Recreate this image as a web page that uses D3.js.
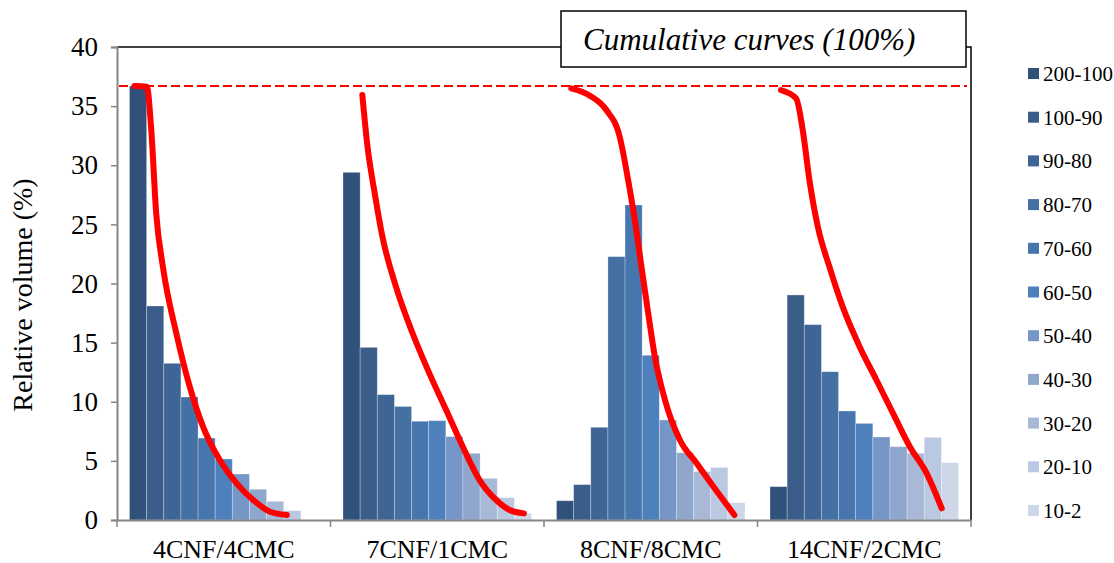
<!DOCTYPE html>
<html>
<head>
<meta charset="utf-8">
<script src="https://cdn.jsdelivr.net/npm/d3@7"></script>
<style>
  html, body { margin: 0; padding: 0; background: #fff; }
  svg { display: block; }
  svg text { font-family: "Liberation Serif", "Tinos", "Times New Roman", Times, "DejaVu Serif", "Noto Serif", serif !important; fill: #000; }
</style>
</head>
<body>
<svg id="chart" width="1114" height="563"></svg>
<script>
// ---------- data ----------
const categories = ["4CNF/4CMC", "7CNF/1CMC", "8CNF/8CMC", "14CNF/2CMC"];
const sizeClasses = ["200-100", "100-90", "90-80", "80-70", "70-60", "60-50", "50-40", "40-30", "30-20", "20-10", "10-2"];
const classColors = ["#30517a", "#3a5d8a", "#3e6596", "#4470a4", "#4776ae", "#4e80bc", "#7596c6", "#8fa6cd", "#a8b8d7", "#bbc8e1", "#cdd7e8"];

const values_4CNF_4CMC  = [36.7, 18.1, 13.25, 10.4, 6.93, 5.16, 3.89, 2.6, 1.58, 0.79, 0];
const values_7CNF_1CMC  = [29.4, 14.6, 10.6, 9.6, 8.35, 8.4, 7.05, 5.64, 3.52, 1.89, 0.56];
const values_8CNF_8CMC  = [1.63, 2.99, 7.84, 22.27, 26.64, 13.93, 8.46, 5.69, 4.09, 4.45, 1.46];
const values_14CNF_2CMC = [2.82, 19.03, 16.52, 12.54, 9.22, 8.17, 7.02, 6.2, 5.64, 6.99, 4.85];

// cumulative curves (position in size-class units within each group, value on the % axis)
const curvePos_4CNF_4CMC  = [0.29, 1.01, 1.27, 1.56, 1.95, 2.73, 3.51, 4.29, 5.27, 6.25, 7.22, 8.2, 9.18];
const curveVal_4CNF_4CMC  = [36.7, 36.65, 33.0, 25.9, 21.4, 15.8, 11.3, 7.9, 5.07, 3.1, 1.69, 0.7, 0.42];
const curvePos_7CNF_1CMC  = [1.13, 1.43, 1.82, 2.3, 3.09, 4.06, 5.04, 6.02, 6.99, 7.97, 8.94, 9.72, 10.56];
const curveVal_7CNF_1CMC  = [35.94, 31.57, 27.9, 23.96, 19.73, 15.79, 12.4, 9.3, 6.2, 3.38, 1.69, 0.85, 0.56];
const curvePos_8CNF_8CMC  = [0.86, 1.93, 2.91, 3.69, 4.18, 4.57, 4.96, 5.35, 5.74, 6.33, 7.2, 8.18, 9.16, 10.38];
const curveVal_8CNF_8CMC  = [36.5, 35.9, 34.67, 32.4, 28.75, 25.37, 21.4, 17.5, 13.8, 10.15, 6.77, 4.8, 2.82, 0.42];
const curvePos_14CNF_2CMC = [0.64, 1.52, 1.91, 2.3, 2.79, 3.47, 4.25, 5.23, 6.21, 7.18, 8.16, 9.14, 10.02];
const curveVal_14CNF_2CMC = [36.36, 35.66, 32.98, 28.75, 24.8, 21.4, 18.0, 14.66, 11.84, 9.02, 6.2, 3.95, 0.99];

const cumulativeLevel = 36.7;
const yTicks = [0, 5, 10, 15, 20, 25, 30, 35, 40];
const chartTitle = "Cumulative curves (100%)";
const yAxisTitle = "Relative volume (%)";

const groupValues = [values_4CNF_4CMC, values_7CNF_1CMC, values_8CNF_8CMC, values_14CNF_2CMC];
const groupCurves = [
  [curvePos_4CNF_4CMC, curveVal_4CNF_4CMC],
  [curvePos_7CNF_1CMC, curveVal_7CNF_1CMC],
  [curvePos_8CNF_8CMC, curveVal_8CNF_8CMC],
  [curvePos_14CNF_2CMC, curveVal_14CNF_2CMC]
];

// ---------- layout ----------
const FONT = '"Liberation Serif", "Tinos", "Times New Roman", Times, "DejaVu Serif", "Noto Serif", serif';
const svg = d3.select("#chart");
const plotLeft = 117, plotRight = 971, plotTop = 47, plotBottom = 520;

const x0 = d3.scaleBand().domain(categories).range([plotLeft, plotRight]).padding(0);
const x1 = d3.scaleBand().domain(sizeClasses).range([12.5, x0.bandwidth() - 12.5]).padding(0);
const xPos = d3.scaleLinear().domain([0, sizeClasses.length]).range([12.5, x0.bandwidth() - 12.5]);
const y = d3.scaleLinear().domain([0, 40]).range([plotBottom, plotTop]);
const color = d3.scaleOrdinal().domain(sizeClasses).range(classColors);

// frame: top line and right border
svg.append("line").attr("x1", plotLeft).attr("x2", 562).attr("y1", plotTop).attr("y2", plotTop)
  .attr("stroke", "#000").attr("stroke-width", 1.5);
svg.append("path")
  .attr("d", `M966,${plotTop}H${plotRight}V${plotBottom}`)
  .attr("fill", "none").attr("stroke", "#000").attr("stroke-width", 1.5);

// bars
const groups = svg.append("g").selectAll("g")
  .data(categories)
  .join("g")
  .attr("transform", d => `translate(${x0(d)},0)`);

groups.selectAll("rect")
  .data((d, i) => groupValues[i].map((v, k) => ({ cls: sizeClasses[k], v })))
  .join("rect")
  .attr("x", d => x1(d.cls))
  .attr("width", x1.bandwidth())
  .attr("y", d => y(d.v))
  .attr("height", d => y(0) - y(d.v))
  .attr("fill", d => color(d.cls))
  .attr("stroke", d => d.v > 0 ? "rgba(255,255,255,0.35)" : "none")
  .attr("stroke-width", 0.8);

// dashed 100% line
svg.append("line")
  .attr("x1", plotLeft + 2).attr("x2", 967)
  .attr("y1", y(cumulativeLevel)).attr("y2", y(cumulativeLevel))
  .attr("stroke", "#ff0000").attr("stroke-width", 2.2)
  .attr("stroke-dasharray", "9,4");

// cumulative curves
const line = d3.line()
  .x(d => d[0]).y(d => d[1])
  .curve(d3.curveMonotoneX);

groups.append("path")
  .attr("d", (d, i) => {
    const [pos, val] = groupCurves[i];
    return line(pos.map((p, k) => [xPos(p), y(val[k])]));
  })
  .attr("fill", "none")
  .attr("stroke", "#ff0000")
  .attr("stroke-width", 6)
  .attr("stroke-linecap", "round")
  .attr("stroke-linejoin", "round");

// y axis
const yAxis = d3.axisLeft(y).tickValues(yTicks).tickSize(6).tickPadding(13).tickFormat(d3.format("d"));
const gy = svg.append("g").attr("transform", `translate(${plotLeft},0)`).call(yAxis)
  .attr("font-family", FONT);
gy.select(".domain").attr("stroke", "#868686").attr("stroke-width", 2);
gy.selectAll(".tick line").attr("stroke", "#868686").attr("stroke-width", 1.5);
gy.selectAll(".tick text").style("font-family", FONT).style("font-size", "27px").attr("fill", "#000");

// x axis
const gx = svg.append("g").attr("transform", `translate(0,${plotBottom})`)
  .call(d3.axisBottom(x0).tickSize(0).tickFormat(""));
gx.select(".domain").attr("stroke", "#868686").attr("stroke-width", 2);
const boundaries = categories.map(c => x0(c)).concat([x0(categories[categories.length - 1]) + x0.bandwidth()]);
gx.selectAll(".bnd").data(boundaries).join("line").attr("class", "bnd")
  .attr("x1", d => d).attr("x2", d => d).attr("y1", 0).attr("y2", 7)
  .attr("stroke", "#868686").attr("stroke-width", 1.5);
svg.append("g").selectAll("text").data(categories).join("text")
  .attr("x", d => x0(d) + x0.bandwidth() / 2)
  .attr("y", 558)
  .attr("text-anchor", "middle")
  .style("font-family", FONT)
  .style("font-size", "26px")
  .text(d => d);

// y axis title
svg.append("text")
  .attr("transform", "translate(32,295) rotate(-90)")
  .attr("text-anchor", "middle")
  .style("font-family", FONT)
  .style("font-size", "28px")
  .text(yAxisTitle);

// title box
svg.append("rect").attr("x", 561).attr("y", 11).attr("width", 405).attr("height", 56)
  .attr("fill", "#fff").attr("stroke", "#000").attr("stroke-width", 1.5);
svg.append("text").attr("x", 583).attr("y", 50)
  .style("font-family", FONT)
  .style("font-size", "31px").style("font-style", "italic")
  .text(chartTitle);

// legend
const legend = svg.append("g").selectAll("g").data(sizeClasses).join("g")
  .attr("transform", (d, i) => `translate(1028,${73.5 + i * 43.7})`);
legend.append("rect").attr("x", 0).attr("y", -5.5).attr("width", 11).attr("height", 11)
  .attr("fill", d => color(d));
legend.append("text").attr("x", 15).attr("y", 7.5)
  .style("font-family", FONT)
  .style("font-size", "21px")
  .text(d => d);
</script>
</body>
</html>
